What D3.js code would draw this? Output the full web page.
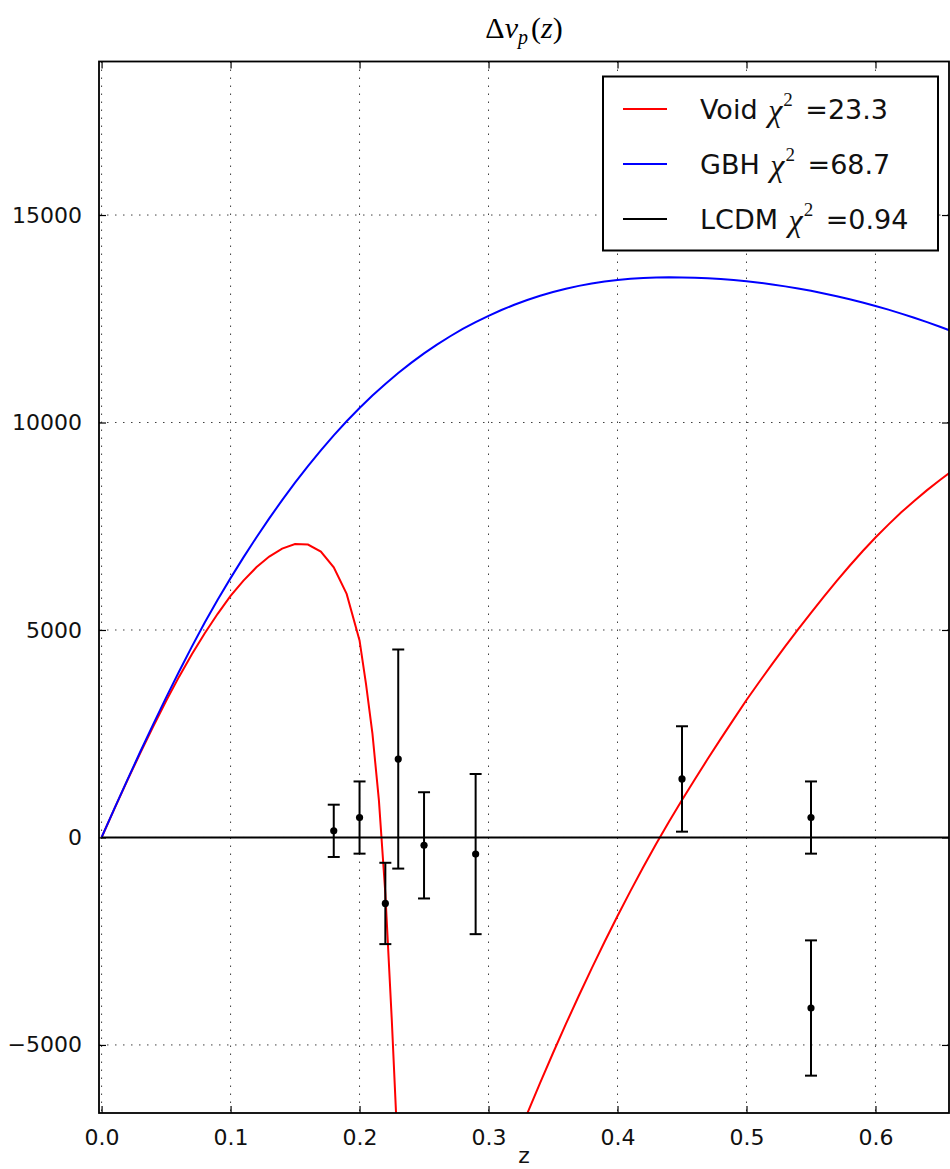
<!DOCTYPE html>
<html>
<head>
<meta charset="utf-8">
<script src="https://cdn.jsdelivr.net/npm/d3@7"></script>
<style>
  body { margin: 0; background: #fff; }
  svg { display: block; }
</style>
</head>
<body>
<svg id="chart" width="950" height="1169"></svg>
<script>
// ---- data -------------------------------------------------------------
// Void model, low-redshift branch (finer steps where it plunges)
const voidNearZ = [0, 0.01, 0.02, 0.03, 0.04, 0.05, 0.06, 0.07, 0.08, 0.09, 0.10,
  0.11, 0.12, 0.13, 0.14, 0.15, 0.16, 0.17, 0.18, 0.19, 0.20,
  0.205, 0.21, 0.215, 0.22, 0.225, 0.23];
const voidNearV = [0, 695, 1375, 2035, 2675, 3290, 3870, 4415, 4920, 5390, 5820,
  6190, 6510, 6770, 6960, 7070, 7060, 6890, 6510, 5870, 4750,
  3700, 2500, 900, -1350, -4400, -7800];

// Void model, high-redshift branch
const voidFarZ = [0.32, 0.33, 0.34, 0.35, 0.36, 0.37, 0.38, 0.39, 0.40, 0.41, 0.42,
  0.43, 0.44, 0.45, 0.46, 0.47, 0.48, 0.49, 0.50, 0.51, 0.52, 0.53, 0.54, 0.55,
  0.56, 0.57, 0.58, 0.59, 0.60, 0.61, 0.62, 0.63, 0.64, 0.65, 0.66];
const voidFarV = [-7414, -6654, -5914, -5194, -4494, -3814, -3154, -2514, -1894, -1294, -714,
  -154, 385, 905, 1405, 1895, 2375, 2845, 3313, 3753, 4183, 4603, 5013, 5413,
  5803, 6183, 6548, 6898, 7228, 7540, 7835, 8110, 8370, 8615, 8845];

// GBH model
const gbhZ = [0, 0.01, 0.02, 0.03, 0.04, 0.05, 0.06, 0.07, 0.08, 0.09, 0.10,
  0.11, 0.12, 0.13, 0.14, 0.15, 0.16, 0.17, 0.18, 0.19, 0.20,
  0.21, 0.22, 0.23, 0.24, 0.25, 0.26, 0.27, 0.28, 0.29, 0.30,
  0.31, 0.32, 0.33, 0.34, 0.35, 0.36, 0.37, 0.38, 0.39, 0.40,
  0.41, 0.42, 0.43, 0.44, 0.45, 0.46, 0.47, 0.48, 0.49, 0.50,
  0.51, 0.52, 0.53, 0.54, 0.55, 0.56, 0.57, 0.58, 0.59, 0.60,
  0.61, 0.62, 0.63, 0.64, 0.65, 0.66];
const gbhV = [0, 700, 1390, 2065, 2725, 3370, 3995, 4600, 5180, 5730, 6250,
  6750, 7230, 7690, 8130, 8550, 8950, 9330, 9690, 10030, 10350,
  10650, 10930, 11192, 11437, 11665, 11877, 12073, 12254, 12420, 12572,
  12711, 12837, 12951, 13053, 13144, 13224, 13293, 13351, 13399, 13437,
  13465, 13484, 13494, 13498, 13495, 13488, 13475, 13457, 13433, 13403,
  13368, 13327, 13281, 13230, 13173, 13111, 13044, 12971, 12893, 12809,
  12720, 12625, 12525, 12420, 12309, 12193];

// LCDM reference
const lcdmZ = [0, 0.66];
const lcdmV = [0, 0];

// Measurements with 1-sigma errors
const obsZ = [0.18, 0.20, 0.22, 0.23, 0.25, 0.29, 0.45, 0.55, 0.55];
const obsV = [160, 480, -1590, 1890, -190, -400, 1410, 480, -4110];
const obsErr = [630, 870, 980, 2640, 1280, 1930, 1270, 870, 1630];

// Axis ticks
const xTicks = [0.0, 0.1, 0.2, 0.3, 0.4, 0.5, 0.6];
const xTickLabels = ["0.0", "0.1", "0.2", "0.3", "0.4", "0.5", "0.6"];
const yTicks = [-5000, 0, 5000, 10000, 15000];
const yTickLabels = ["\u22125000", "0", "5000", "10000", "15000"];

// Legend entries
const legendNames = ["Void", "GBH", "LCDM"];
const legendChi = ["23.3", "68.7", "0.94"];
const legendColors = ["#ff0000", "#0000ff", "#000000"];

// ---- layout -----------------------------------------------------------
const plot = { left: 99, right: 949, top: 61.5, bottom: 1113 };
const x = d3.scaleLinear().domain([-0.002, 0.657]).range([plot.left, plot.right]);
const y = d3.scaleLinear().domain([-6640, 18700]).range([plot.bottom, plot.top]);

const svg = d3.select("#chart");
const sansFont = "'DejaVu Sans', sans-serif";
const mathFont = "'Liberation Serif', 'DejaVu Serif', serif";

svg.append("defs").append("clipPath").attr("id", "plot-clip")
  .append("rect")
  .attr("x", plot.left).attr("y", plot.top)
  .attr("width", plot.right - plot.left).attr("height", plot.bottom - plot.top);

// grid
const grid = svg.append("g").attr("stroke", "#000").attr("stroke-width", 1)
  .attr("stroke-dasharray", "1.5,6.5").attr("opacity", 0.75);
grid.selectAll("line.gx").data(xTicks).join("line")
  .attr("x1", d => x(d)).attr("x2", d => x(d))
  .attr("y1", plot.top).attr("y2", plot.bottom);
grid.selectAll("line.gy").data(yTicks).join("line")
  .attr("y1", d => y(d)).attr("y2", d => y(d))
  .attr("x1", plot.left).attr("x2", plot.right);

// curves
const curves = svg.append("g").attr("clip-path", "url(#plot-clip)").attr("fill", "none");
const line = d3.line().x(d => x(d[0])).y(d => y(d[1]));
const zipPts = (zs, vs) => zs.map((z, i) => [z, vs[i]]);

curves.append("path").datum(zipPts(voidNearZ, voidNearV))
  .attr("d", line).attr("stroke", "#ff0000").attr("stroke-width", 2);
curves.append("path").datum(zipPts(voidFarZ, voidFarV))
  .attr("d", line).attr("stroke", "#ff0000").attr("stroke-width", 2);
curves.append("path").datum(zipPts(gbhZ, gbhV))
  .attr("d", line).attr("stroke", "#0000ff").attr("stroke-width", 2);
curves.append("path").datum(zipPts(lcdmZ, lcdmV))
  .attr("d", line).attr("stroke", "#000000").attr("stroke-width", 2);

// error bars
const obs = obsZ.map((z, i) => ({ z, v: obsV[i], e: obsErr[i] }));
const eb = svg.append("g").attr("clip-path", "url(#plot-clip)")
  .attr("stroke", "#000").attr("stroke-width", 2);
eb.selectAll("line.stem").data(obs).join("line")
  .attr("x1", d => x(d.z)).attr("x2", d => x(d.z))
  .attr("y1", d => y(d.v + d.e)).attr("y2", d => y(d.v - d.e));
eb.selectAll("line.capTop").data(obs).join("line")
  .attr("x1", d => x(d.z) - 6).attr("x2", d => x(d.z) + 6)
  .attr("y1", d => y(d.v + d.e)).attr("y2", d => y(d.v + d.e));
eb.selectAll("line.capBot").data(obs).join("line")
  .attr("x1", d => x(d.z) - 6).attr("x2", d => x(d.z) + 6)
  .attr("y1", d => y(d.v - d.e)).attr("y2", d => y(d.v - d.e));
svg.append("g").selectAll("circle").data(obs).join("circle")
  .attr("cx", d => x(d.z)).attr("cy", d => y(d.v)).attr("r", 3.6).attr("fill", "#000");

// axes: inward ticks on all four sides
const tickLen = 7;
const axes = svg.append("g");
const xBottom = d3.axisBottom(x).tickValues(xTicks).tickSizeInner(-tickLen).tickSizeOuter(0)
  .tickFormat((d, i) => xTickLabels[i]).tickPadding(16);
const xTop = d3.axisTop(x).tickValues(xTicks).tickSizeInner(-tickLen).tickSizeOuter(0).tickFormat("");
const yLeft = d3.axisLeft(y).tickValues(yTicks).tickSizeInner(-tickLen).tickSizeOuter(0)
  .tickFormat((d, i) => yTickLabels[i]).tickPadding(17);
const yRight = d3.axisRight(y).tickValues(yTicks).tickSizeInner(-tickLen).tickSizeOuter(0).tickFormat("");

function styleAxis(g) {
  g.select(".domain").remove();
  g.selectAll(".tick line").attr("stroke", "#000").attr("stroke-width", 1.2);
  g.selectAll(".tick text").attr("fill", "#111").style("font-family", sansFont).style("font-size", "22px");
}
axes.append("g").attr("transform", `translate(0,${plot.bottom})`).call(xBottom).call(styleAxis);
axes.append("g").attr("transform", `translate(0,${plot.top})`).call(xTop).call(styleAxis);
axes.append("g").attr("transform", `translate(${plot.left},0)`).call(yLeft).call(styleAxis);
axes.append("g").attr("transform", `translate(${plot.right},0)`).call(yRight).call(styleAxis);

// frame
svg.append("rect")
  .attr("x", plot.left).attr("y", plot.top)
  .attr("width", plot.right - plot.left).attr("height", plot.bottom - plot.top)
  .attr("fill", "none").attr("stroke", "#000").attr("stroke-width", 1.8);

// axis label
svg.append("text").attr("x", (plot.left + plot.right) / 2).attr("y", 1163)
  .attr("text-anchor", "middle").style("font-family", sansFont).style("font-size", "22px")
  .attr("fill", "#111").text("z");

// title: Δv_p(z)
const title = svg.append("text").attr("x", (plot.left + plot.right) / 2).attr("y", 38)
  .attr("text-anchor", "middle").style("font-family", mathFont).style("font-size", "30px").attr("fill", "#000");
title.append("tspan").text("\u0394");
title.append("tspan").style("font-style", "italic").text("v");
title.append("tspan").style("font-style", "italic").style("font-size", "20px").attr("dy", 6).text("p");
title.append("tspan").attr("dy", -6).attr("dx", 3).text("(");
title.append("tspan").style("font-style", "italic").text("z");
title.append("tspan").text(")");

// legend
const lg = svg.append("g");
lg.append("rect").attr("x", 603).attr("y", 76.5).attr("width", 335).attr("height", 174)
  .attr("fill", "#fff").attr("stroke", "#000").attr("stroke-width", 2);
const rowY = [109, 164, 219];
legendNames.forEach((name, i) => {
  lg.append("line").attr("x1", 623).attr("x2", 667).attr("y1", rowY[i]).attr("y2", rowY[i])
    .attr("stroke", legendColors[i]).attr("stroke-width", 2);
  const t = lg.append("text").attr("x", 700).attr("y", rowY[i] + 10)
    .style("font-family", sansFont).style("font-size", "27px").attr("fill", "#111");
  t.append("tspan").text(name + " ");
  t.append("tspan").style("font-family", mathFont).style("font-style", "italic")
    .style("font-size", "32px").attr("dy", 2).attr("dx", 2).text("\u03c7");
  t.append("tspan").style("font-family", mathFont).style("font-size", "19px").attr("dy", -15).attr("dx", 1).text("2");
  t.append("tspan").attr("dy", 13).attr("dx", 4).text(" =" + legendChi[i]);
});
</script>
</body>
</html>
